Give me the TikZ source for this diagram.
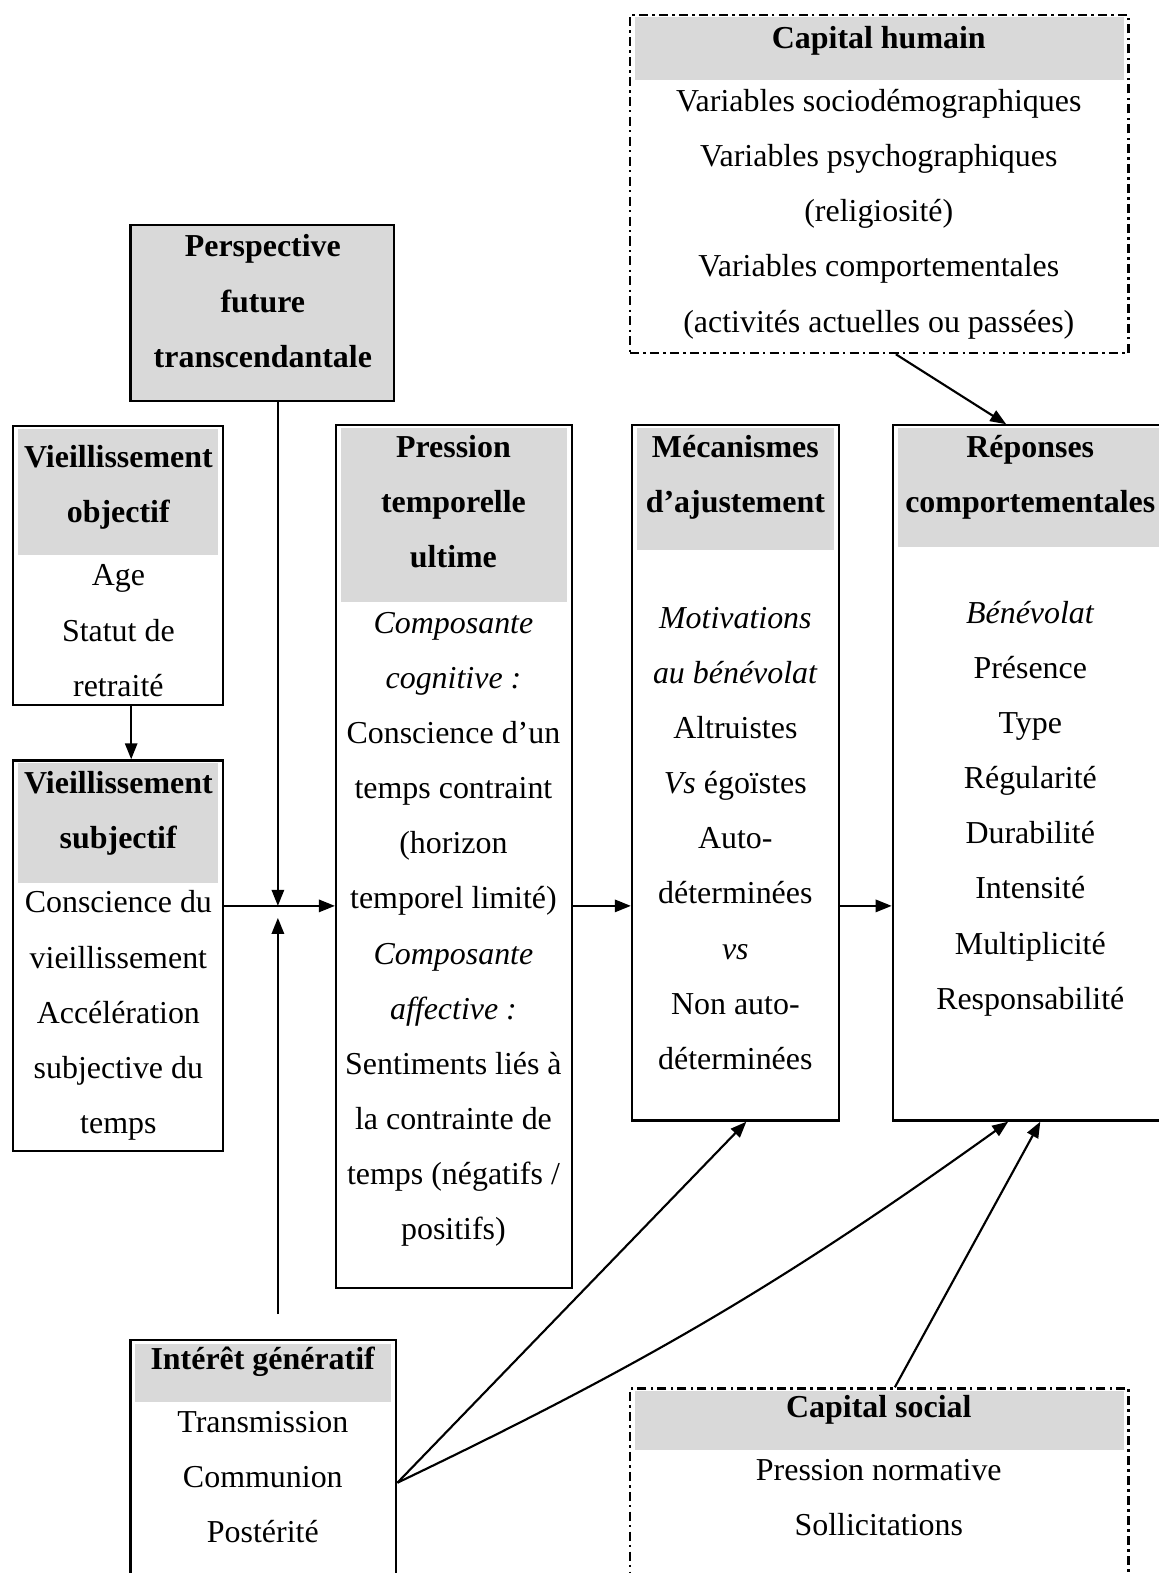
\documentclass[tikz,border=0pt]{standalone}
\usepackage{fontspec}
\setmainfont{Liberation Serif}
\usetikzlibrary{arrows.meta,fit}
\newcommand{\pile}[4]{\foreach \ligne [count=\i from 0] in {#4} \node[txt] (#1-\i) at (#2,{#3+55*\i}) {\ligne};}

\begin{document}
\begin{tikzpicture}[x=0.377pt,y=-0.377pt,
  txt/.style={font=\fontsize{12pt}{14pt}\selectfont,inner sep=0pt,text height=8pt,text depth=2.5pt,yshift=-1.4pt},
  cadre/.style={draw,line width=0.85pt,inner sep=0pt},
  pointille/.style={cadre,dash pattern=on 3.4pt off 1.6pt on 0.9pt off 1.6pt},
  entete/.style={fill=black!15},
  fleche/.style={line width=0.8pt,-{Triangle[length=6pt,width=4.6pt]}}]
\useasboundingbox (0,0) rectangle (1155,1568);

% en-tetes grises
\fill[entete] (633,17) rectangle (1120,80);
\fill[entete] (130,224) rectangle (393,400);
\fill[entete] (18,428) rectangle (217,553);
\fill[entete] (18,761) rectangle (217,880);
\fill[entete] (340,427) rectangle (565,600);
\fill[entete] (635,427) rectangle (831,548);
\fill[entete] (895,427) rectangle (1160,545);
\fill[entete] (135,1340) rectangle (390,1398);
\fill[entete] (633,1387) rectangle (1120,1445);

% cadres
\node[pointille,fit={(628,15) (1125,352)}] (caph) {};
\node[cadre,fit={(130,224) (393,400)}] (persp) {};
\node[cadre,fit={(13,425) (222,703)}] (obj) {};
\node[cadre,fit={(13,758) (222,1147)}] (subj) {};
\node[cadre,fit={(335,424) (570,1284)}] (press) {};
\node[cadre,fit={(630,424) (836,1117)}] (meca) {};
\node[cadre,fit={(890,424) (1165,1117)}] (rep) {};
\node[cadre,fit={(130,1336) (395,1600)}] (gen) {};
\node[pointille,fit={(628,1384) (1125,1600)}] (cs) {};

% textes
\node[txt] (caph-t) at (876,37) {\textbf{Capital humain}};
\pile{caph}{876}{100}{Variables sociodémographiques,Variables psychographiques,{(religiosité)},Variables comportementales,{(activités actuelles ou passées)}}
\pile{persp}{262}{245}{\textbf{Perspective},\textbf{future},\textbf{transcendantale}}
\pile{objt}{118}{455}{\textbf{Vieillissement},\textbf{objectif}}
\pile{obj}{118}{573}{Age,Statut de,retraité}
\pile{subjt}{118}{780}{\textbf{Vieillissement},\textbf{subjectif}}
\pile{subj}{118}{899}{Conscience du,vieillissement,Accélération,subjective du,temps}
\pile{presst}{452}{445}{\textbf{Pression},\textbf{temporelle},\textbf{ultime}}
\pile{press}{452}{620}{\textit{Composante},\textit{cognitive :},Conscience d’un,temps contraint,{(horizon},{temporel limité)},\textit{Composante},\textit{affective :},Sentiments liés à,la contrainte de,{temps (négatifs /},{positifs)}}
\pile{mecat}{733}{445}{\textbf{Mécanismes},\textbf{d’ajustement}}
\pile{meca}{733}{615}{\textit{Motivations},\textit{au bénévolat},Altruistes,\textit{Vs} égoïstes,Auto-,déterminées,\textit{vs},Non auto-,déterminées}
\pile{rept}{1027}{445}{\textbf{Réponses},\textbf{comportementales}}
\pile{rep}{1027}{610}{\textit{Bénévolat},Présence,Type,Régularité,Durabilité,Intensité,Multiplicité,Responsabilité}
\node[txt] (gen-t) at (262,1354) {\textbf{Intérêt génératif}};
\pile{gen}{262}{1417}{Transmission,Communion,Postérité}
\node[txt] (cs-t) at (876,1402) {\textbf{Capital social}};
\pile{cs}{876}{1465}{Pression normative,Sollicitations}

% fleches
\coordinate (noeud) at (277,903);
\coordinate (depart) at (277,1310);
\draw[fleche] ([xshift=5pt]obj.south) -- ([xshift=5pt]subj.north);
\draw[fleche] (persp.south -| noeud) -- (noeud);
\draw[fleche] (depart) -- ([yshift=-4.5pt]noeud);
\draw[fleche] (subj.east |- noeud) -- (press.west |- noeud);
\draw[fleche] (press.east |- noeud) -- (meca.west |- noeud);
\draw[fleche] (meca.east |- noeud) -- (rep.west |- noeud);
\draw[fleche] (893,0 |- caph.south) -- (1003,0 |- rep.north);
\draw[fleche] (gen.east |- 0,1478) -- (744,0 |- meca.south);
\draw[fleche] (gen.east |- 0,1478) to[bend right=5] (1005,0 |- rep.south);
\draw[fleche] (892,0 |- cs.north) -- (1037,0 |- rep.south);
\end{tikzpicture}
\end{document}
